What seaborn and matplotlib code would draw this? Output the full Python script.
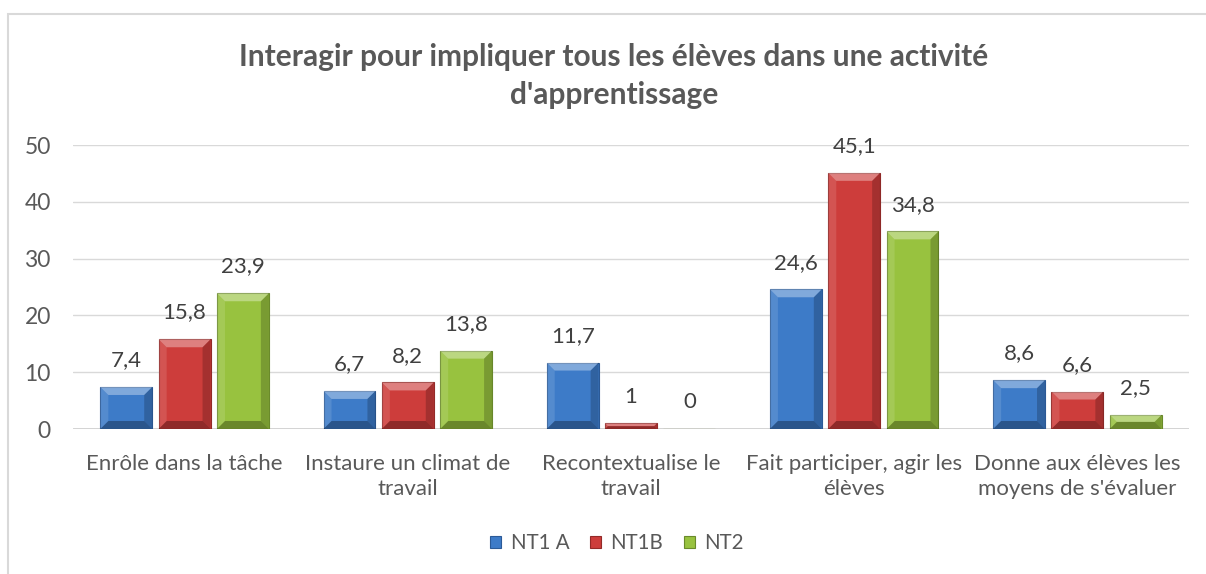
import matplotlib
matplotlib.use('Agg')
import matplotlib.pyplot as plt
import seaborn as sns
import pandas as pd
from matplotlib.patches import Polygon, Rectangle, Patch

categories = ["Enrôle dans la tâche", "Instaure un climat de\ntravail",
              "Recontextualise le\ntravail", "Fait participer, agir les\nélèves",
              "Donne aux élèves les\nmoyens de s'évaluer"]
series = ["NT1 A", "NT1B", "NT2"]
nt1a = [7.4, 6.7, 11.7, 24.6, 8.6]
nt1b = [15.8, 8.2, 1.0, 45.1, 6.6]
nt2 = [23.9, 13.8, 0.0, 34.8, 2.5]
y_ticks = [0, 10, 20, 30, 40, 50]
title_lines = ["Interagir pour impliquer tous les élèves dans une activité",
               "d'apprentissage"]
colors = ["#3D7BC8", "#CD3D3B", "#98C23F"]
edge_colors = ["#2B5A97", "#932A28", "#6A8A2B"]

sns.set_theme(style="white")
plt.rcParams['font.family'] = ['Lato', 'DejaVu Sans']

df = pd.DataFrame({
    "cat": categories * 3,
    "serie": [s for s in series for _ in categories],
    "val": nt1a + nt1b + nt2,
})

W, H = 1206, 574
fig = plt.figure(figsize=(W / 100, H / 100), dpi=100)
ax_l, ax_r, ax_t, ax_b = 73, 1189, 145, 429
ax = fig.add_axes([ax_l / W, 1 - ax_b / H, (ax_r - ax_l) / W, (ax_b - ax_t) / H])

sns.barplot(data=df, x="cat", y="val", hue="serie", order=categories,
            hue_order=series, palette=colors, width=0.784, gap=0.11,
            legend=False, ax=ax, saturation=1, errorbar=None, zorder=3)

ax.set_xlim(-0.5, len(categories) - 0.5)
ax.set_ylim(0, 50)
ax.set_yticks(y_ticks)
ax.set_xlabel("")
ax.set_ylabel("")
for s in ax.spines.values():
    s.set_visible(False)
ax.yaxis.grid(True, color="#D9D9D9", lw=1)
ax.set_axisbelow(True)
ax.axhline(0, color="#D0D0D0", lw=2, zorder=2)
ax.tick_params(axis="y", length=0, pad=16, labelsize=16.5, labelcolor="#595959")
ax.tick_params(axis="x", length=0, pad=18, labelsize=16, labelcolor="#595959")
for t in ax.get_xticklabels():
    t.set_linespacing(1.3)

# bevel effect
px_x = (ax_r - ax_l) / len(categories)
px_y = (ax_b - ax_t) / 50.0
for i, cont in enumerate(ax.containers):
    for p in cont.patches:
        x0, w, h = p.get_x(), p.get_width(), p.get_height()
        p.set_edgecolor(edge_colors[i])
        p.set_linewidth(0.8)
        if h <= 0:
            continue
        s = min(8.0, h * px_y / 2)
        bx, by = s / px_x, s / px_y
        polys = [
            ([(x0, h), (x0 + w, h), (x0 + w - bx, h - by), (x0 + bx, h - by)], "white", 0.35),
            ([(x0, 0), (x0, h), (x0 + bx, h - by), (x0 + bx, by)], "white", 0.12),
            ([(x0 + w, 0), (x0 + w, h), (x0 + w - bx, h - by), (x0 + w - bx, by)], "black", 0.20),
            ([(x0, 0), (x0 + w, 0), (x0 + w - bx, by), (x0 + bx, by)], "black", 0.30),
        ]
        for pts, c, a in polys:
            ax.add_patch(Polygon(pts, closed=True, facecolor=c, alpha=a,
                                 edgecolor="none", zorder=4))

def fmt(v):
    return f"{v:g}".replace(".", ",")

for cont, vals in zip(ax.containers, [nt1a, nt1b, nt2]):
    ax.bar_label(cont, labels=[fmt(v) for v in vals], padding=12,
                 fontsize=16, color="#404040")

fig.text(614 / W, 1 - 66 / H, title_lines[0], ha="center", va="baseline",
         fontsize=21.5, fontweight="bold", color="#595959")
fig.text(614 / W, 1 - 104 / H, title_lines[1], ha="center", va="baseline",
         fontsize=21.5, fontweight="bold", color="#595959")

handles = [Patch(facecolor=c, edgecolor=e, lw=0.8) for c, e in zip(colors, edge_colors)]
fig.legend(handles, series, loc="center", bbox_to_anchor=(617 / W, 1 - 543 / H),
           ncol=3, frameon=False, fontsize=14.8, handlelength=0.55, handleheight=0.55,
           handletextpad=0.45, columnspacing=1.0, labelcolor="#595959")

fig.patches.append(Rectangle((8 / W, -0.1), 1.2, 1 - 14 / H + 0.1,
                             transform=fig.transFigure, facecolor="none",
                             edgecolor="#D9D9D9", lw=1.5, clip_on=False))

fig.savefig("out.png", dpi=100)
